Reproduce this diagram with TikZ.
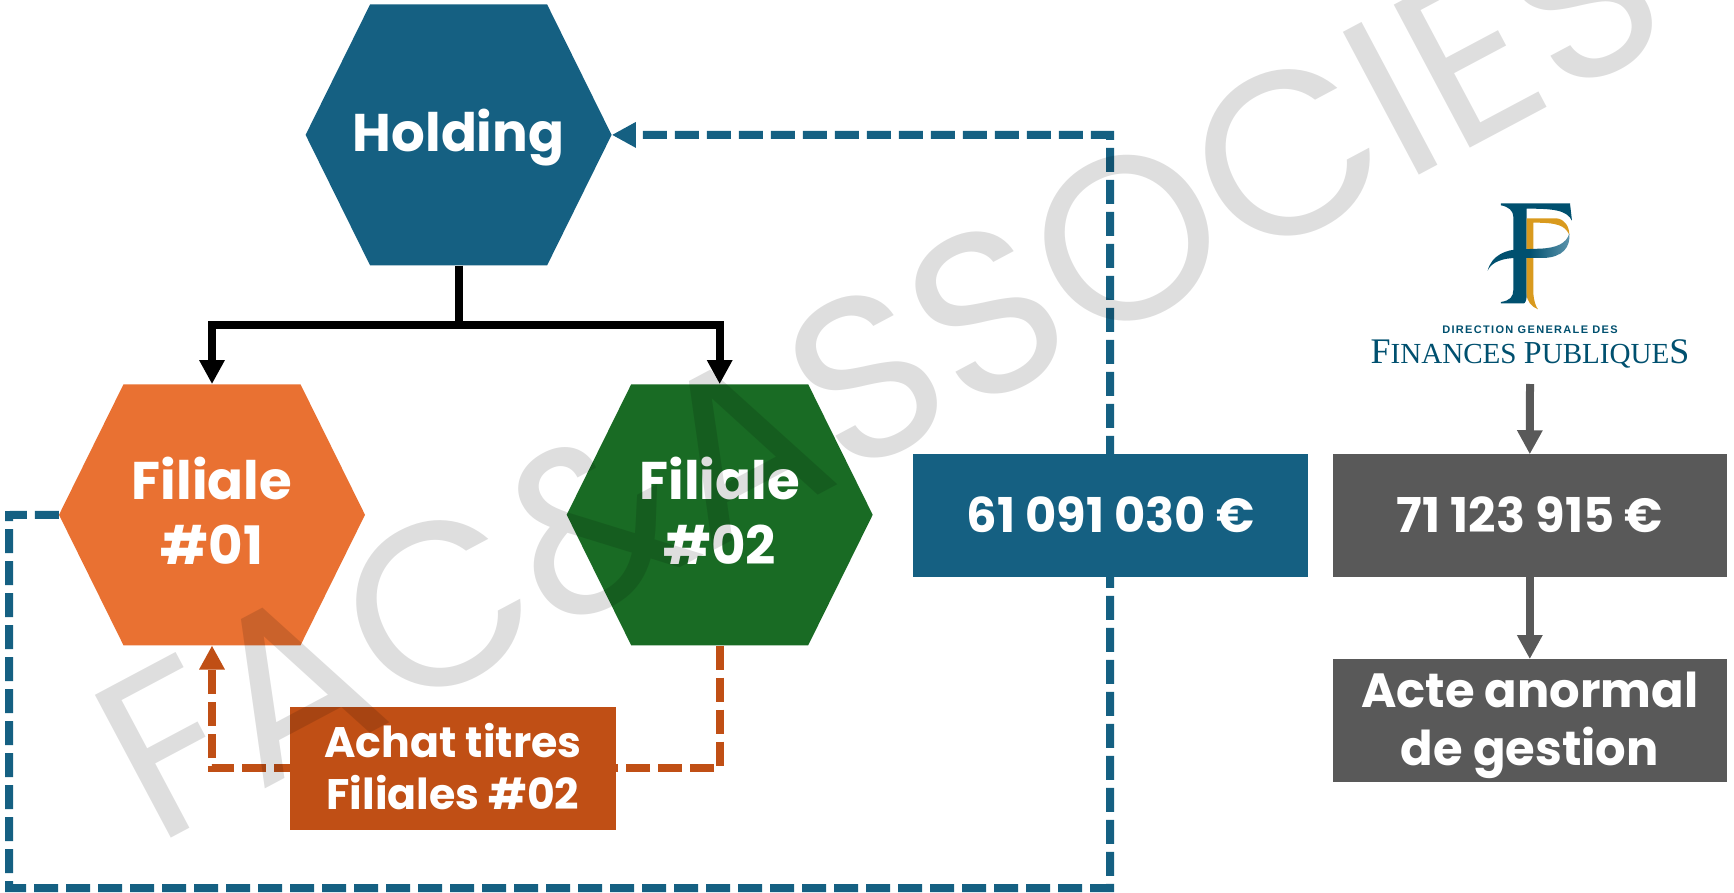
\documentclass[tikz,border=0pt]{standalone}
\usepackage{fontspec}
\setmainfont{Poppins}[BoldFont={* Bold}]
\newfontfamily\wmfont{Poppins}
\newfontfamily\lgsans[LetterSpace=12]{Liberation Sans Bold}
\newfontfamily\lgserif{Liberation Serif}
\usetikzlibrary{arrows.meta,shapes.symbols}
\definecolor{cblue}{HTML}{156082}
\definecolor{corange}{HTML}{E97132}
\definecolor{cgreen}{HTML}{196B24}
\definecolor{cdorange}{HTML}{C04F15}
\definecolor{cgrey}{HTML}{595959}
\definecolor{lteal}{HTML}{00506F}
\definecolor{lteal2}{HTML}{5F96AE}
\definecolor{lgold}{HTML}{D99A1E}
\newcommand\lift[2]{\makebox[0pt]{\raisebox{#1}[0pt][0pt]{\begin{tabular}{@{}c@{}}#2\end{tabular}}}}
\tikzset{
  hexnode/.style={shape=signal,signal to=west and east,signal pointer angle=127.4,
    minimum width=306pt,minimum height=261pt,inner sep=0pt,fill=#1,text=white,
    font=\bfseries\fontsize{53}{65}\selectfont},
  boxnode/.style={rectangle,minimum width=#1,inner sep=0pt,text=white},
  link/.style={line width=8pt,-{Triangle[length=24pt,width=24pt]}},
  dashlink/.style={line width=8pt,dash pattern=on 24pt off 8pt,-{Triangle[length=24pt,width=24pt]}},
}
\begin{document}
\begin{tikzpicture}[x=1pt,y=-1pt]
\useasboundingbox (0,0) rectangle (1734,893);
\fill[white] (0,0) rectangle (1734,893);
% named anchors
\coordinate (wl) at (9,515);
\coordinate (bl) at (9,888);
\coordinate (br) at (1110,888);
\coordinate (tr) at (1110,135);
\coordinate (cl) at (212,768);
\coordinate (cr) at (719.7,768);
\coordinate (busl) at (212,325);
\coordinate (busr) at (719.7,325);
\coordinate (busm) at (458.6,325);
% nodes positions
\coordinate (phold) at (458.6,134.9);
\coordinate (pf1) at (212,514.8);
\coordinate (pf2) at (719.7,514.8);
\node[hexnode=cblue] (hold) at (phold) {\lift{-10.3pt}{Holding}};
\node[hexnode=corange] (f1) at (pf1) {\lift{-10.6pt}{Filiale\\\#01}};
\node[hexnode=cgreen] (f2) at (pf2) {\lift{-10.6pt}{Filiale\\\#02}};
% connectors
\draw[link,-] (hold.south) -- (busm);
\draw[link] (busm) -- (busl) -- (f1.north);
\draw[link] (busm) -- (busr) -- (f2.north);
\draw[dashlink,cblue] (f1.west) -- (wl) -- (bl) -- (br) -- (tr) -- (hold.east);
\draw[dashlink,cdorange] (f2.south) -- (cr) -- (cl) -- (f1.south);
% boxes
\node[boxnode=394.5pt,fill=cblue,minimum height=122.5pt,font=\bfseries\fontsize{48}{50}\selectfont] (amt1) at (1110.7,515.7) {\lift{-13pt}{61 091 030 €}};
\node[boxnode=394.5pt,fill=cgrey,minimum height=122.5pt,font=\bfseries\fontsize{48}{50}\selectfont] (amt2) at (1529.8,515.7) {\lift{-13pt}{71 123 915 €}};
\node[boxnode=394.5pt,fill=cgrey,minimum height=122.5pt,font=\bfseries\fontsize{48}{58}\selectfont] (acte) at (1529.8,720.5) {\lift{-11pt}{Acte anormal\\de gestion}};
\node[boxnode=326pt,fill=cdorange,minimum height=123pt,font=\bfseries\fontsize{42.7}{52}\selectfont] (achat) at (453,768.5) {\lift{-10.5pt}{Achat titres\\Filiales \#02}};
\coordinate (logob) at (1530,384);
\draw[link,cgrey] (logob) -- (amt2.north);
\draw[link,cgrey] (amt2.south) -- (acte.north);
% logo
\begin{scope}[shift={(1300,180)},x=0.3333pt,y=-0.3333pt]
\fill[lteal] (603,70) -- (810,70) -- (816,122) .. controls (800,90) and (760,86) .. (680,86) -- (680,348) .. controls (680,360) and (675,370) .. (672,370) -- (603,370) -- (603,366) .. controls (630,362) and (640,350) .. (640,330) -- (640,110) .. controls (640,92) and (625,80) .. (603,76) -- cycle;
\fill[lgold] (680,115) -- (770,115) .. controls (795,118) and (808,140) .. (808,165) .. controls (795,135) and (770,128) .. (700,128) -- (700,340) .. controls (702,365) and (708,380) .. (714,388) .. controls (695,380) and (680,365) .. (680,340) -- cycle;
\shade[left color=lteal,right color=lteal2,middle color=lteal] (563,272) .. controls (575,225) and (620,208) .. (660,208) -- (720,206) .. controls (770,204) and (800,190) .. (808,160) .. controls (812,200) and (790,232) .. (730,234) -- (650,234) .. controls (610,234) and (575,245) .. (563,272) -- cycle;
\end{scope}
\node[inner sep=0pt,text=lteal,font=\lgsans\fontsize{11}{12}\selectfont] (lg1) at (1530,329.5) {DIRECTION GENERALE DES};
\node[inner sep=0pt,text=lteal,font=\lgserif] (lg2) at (1530,354) {\fontsize{36}{36}\selectfont F\fontsize{29.1}{29.1}\selectfont INANCES \fontsize{32}{32}\selectfont P\fontsize{29.1}{29.1}\selectfont UBLIQUE\fontsize{36}{36}\selectfont S};
% watermark
\node[anchor=base west,rotate=28,inner sep=0pt,text=black,text opacity=0.13,font=\wmfont\fontsize{232}{232}\selectfont] (wm) at (155,847) {FAC\&ASSOCIES};
\end{tikzpicture}
\end{document}
